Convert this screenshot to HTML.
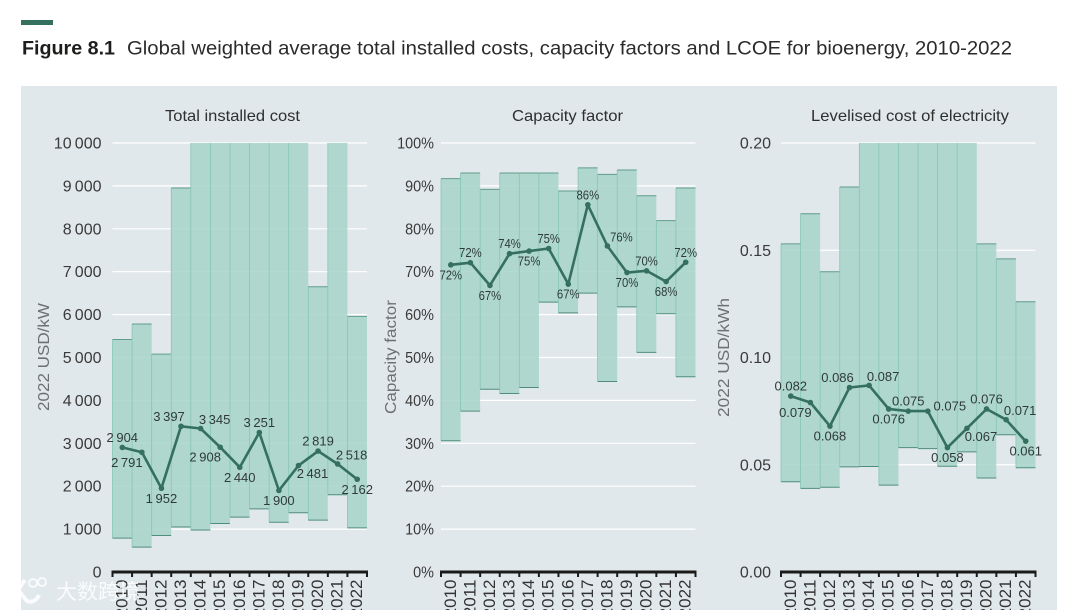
<!DOCTYPE html>
<html lang="en">
<head>
<meta charset="utf-8">
<title>Figure 8.1</title>
<style>
html,body{margin:0;padding:0;background:#fff;width:1080px;height:610px;overflow:hidden}
svg{display:block}
text{font-family:"Liberation Sans","Noto Sans CJK SC",sans-serif}
</style>
</head>
<body>
<svg id="fig" xmlns="http://www.w3.org/2000/svg" width="1080" height="610" viewBox="0 0 1080 610">
  <rect x="21" y="20" width="32" height="5" fill="#35705f"/>
  <text x="22" y="54.500" font-size="19" font-weight="700" fill="#1d1d1b" textLength="93" lengthAdjust="spacingAndGlyphs">Figure 8.1</text>
  <text x="127" y="54.500" font-size="19.500" fill="#2b2b2b" textLength="885" lengthAdjust="spacingAndGlyphs">Global weighted average total installed costs, capacity factors and LCOE for bioenergy, 2010-2022</text>
  <rect x="21" y="86" width="1036" height="524" fill="#e1e8eb"/>
  <g id="charts"></g>
  <g opacity="0.85">
    <path d="M13 581 L11 594 L15 602 M25 580 L18 590 L27 601 C32 603 37 600 39 595" fill="none" stroke="#fff" stroke-width="4"/>
    <circle cx="33" cy="583" r="4" fill="none" stroke="#fff" stroke-width="1.800"/>
    <circle cx="42" cy="582" r="4" fill="none" stroke="#fff" stroke-width="1.800"/>
    <text x="56" y="599" font-size="21" fill="#fff" style="font-family:'Noto Sans CJK SC',sans-serif">大数跨境</text>
  </g>
</svg>
<script>
var years = ['2010','2011','2012','2013','2014','2015','2016','2017','2018','2019','2020','2021','2022'];

var costHigh = [5420,5780,5080,8950,10000,10000,10000,10000,10000,10000,6650,10000,5960];
var costLow = [790,580,850,1050,980,1130,1280,1470,1160,1380,1210,1800,1030];
var costMean = [2904,2791,1952,3397,3345,2908,2440,3251,1900,2481,2819,2518,2162];
var costTicks = [0,1000,2000,3000,4000,5000,6000,7000,8000,9000,10000];
var costPlacement = ['N','SW','S','NW','NE','SW','S','N','S','SE','N','NE','S'];

var factorHigh = [91.7,93,89.2,93,93,93,88.8,94.2,92.7,93.7,87.7,81.9,89.5];
var factorLow = [30.6,37.5,42.6,41.6,43,62.9,60.4,65,44.4,61.8,51.2,60.2,45.5];
var factorMean = [71.6,72.1,66.8,74.2,74.8,75.4,67.1,85.6,76,69.8,70.2,67.7,72.2];
var factorTicks = [0,10,20,30,40,50,60,70,80,90,100];
var factorPlacement = ['S','N','S','N','S','N','S','N','NE','S','N','S','N'];

var lcoeHigh = [0.153,0.167,0.14,0.1795,0.2,0.2,0.2,0.2,0.2,0.2,0.153,0.146,0.126];
var lcoeLow = [0.0421,0.039,0.0395,0.049,0.0492,0.0405,0.058,0.0575,0.0493,0.056,0.0438,0.064,0.0486];
var lcoeMean = [0.082,0.079,0.068,0.086,0.087,0.076,0.075,0.075,0.058,0.067,0.076,0.071,0.061];
var lcoeTicks = [0,0.05,0.1,0.15,0.2];
var lcoePlacement = ['N','SW','S','NW','NE','S','N','E','S','SE','N','NE','S'];

var SVG_NS = 'http://www.w3.org/2000/svg';
var root = document.getElementById('charts');
var LINE = '#35705f';
var OFFSETS = {N:[0,-10],S:[0,10],NE:[14,-9],NW:[-12,-10],SE:[14,8],SW:[-15,10],E:[22,-5]};

function make(tag, attrs, parent, txt) {
  var el = document.createElementNS(SVG_NS, tag);
  for (var k in attrs) el.setAttribute(k, attrs[k]);
  if (txt !== undefined) el.textContent = txt;
  parent.appendChild(el);
  return el;
}

function thousands(v) {
  var s = String(Math.round(v));
  return s.length > 3 ? s.slice(0, -3) + '\u2009' + s.slice(-3) : s;
}
function percent(v) { return Math.round(v) + '%'; }
function tickMoney(v) { return v.toFixed(2); }
function labelMoney(v) { return v.toFixed(3); }

function drawChart(cfg) {
  var left = cfg.left, right = cfg.left + 254.5, top = 143, base = 572;
  var g = make('g', {}, root);
  
  
  var step = (right - left) / years.length;
  function xScale(i) { return left + step * (i + 0.5); }
  function yScale(v) { return base - (v / cfg.max) * (base - top); }

  var title = make('text', {x: cfg.titleX, y: 121, 'font-size': 16, fill: '#2f2f2f', 'text-anchor': 'middle', textLength: cfg.titleW, lengthAdjust: 'spacingAndGlyphs'}, g, cfg.title);
  
  

  var yt = make('text', {transform: 'translate(' + cfg.yTitleX + ' ' + cfg.yTitleY + ') rotate(-90)', 'font-size': 15.5, fill: '#6b7173', 'text-anchor': 'middle', textLength: cfg.yTitleW, lengthAdjust: 'spacingAndGlyphs'}, g, cfg.yTitle);
  
  

  cfg.ticks.forEach(function (t) {
    var y = yScale(t);
    if (t !== 0) {
      var gl = make('line', {x1: left, x2: right, y1: y, y2: y, stroke: '#ffffff', 'stroke-width': 1.2}, g);
      
      
    }
    var tl = make('text', {x: left - cfg.tickGap, y: y + 5.5, 'font-size': 16, fill: '#3a3a3a', 'text-anchor': 'end', transform: cfg.tickSquash ? 'translate(' + (left - cfg.tickGap) + ' 0) scale(' + cfg.tickSquash + ' 1) translate(' + (-(left - cfg.tickGap)) + ' 0)' : ''}, g, cfg.tickFmt(t));
    
    
  });

  years.forEach(function (yr, i) {
    var x0 = left + step * i, yTop = yScale(cfg.high[i]), yBot = yScale(cfg.low[i]);
    var bar = make('rect', {x: x0, y: yTop, width: step, height: yBot - yTop, fill: '#a6d4c8', 'fill-opacity': 0.85, stroke: 'none'}, g);
    
    
    var side = make('line', {x1: x0, x2: x0, y1: yTop, y2: yBot, stroke: '#86c6b5', 'stroke-width': 0.8}, g);
    
    
    if (cfg.high[i] < cfg.max) {
      var capTop = make('line', {x1: x0, x2: x0 + step, y1: yTop, y2: yTop, stroke: '#5f9c8b', 'stroke-width': 1}, g);
      
      
    }
    var capBot = make('line', {x1: x0, x2: x0 + step, y1: yBot, y2: yBot, stroke: '#4f8d7c', 'stroke-width': 1}, g);
    
    
  });

  var pts = cfg.mean.map(function (v, i) { return xScale(i).toFixed(1) + ',' + yScale(v).toFixed(1); }).join(' ');
  var line = make('polyline', {points: pts, fill: 'none', stroke: LINE, 'stroke-width': 2.6, 'stroke-linejoin': 'round'}, g);
  
  

  cfg.mean.forEach(function (v, i) {
    var c = make('circle', {cx: xScale(i), cy: yScale(v), r: 2.8, fill: LINE}, g);
    
    
    var off = OFFSETS[cfg.place[i]];
    var lx = xScale(i) + off[0];
    var lb = make('text', {x: lx, y: yScale(v) + off[1] + 4.5, 'font-size': 13, fill: '#2f3a38', 'text-anchor': 'middle', transform: cfg.labelSquash ? 'translate(' + lx + ' 0) scale(' + cfg.labelSquash + ' 1) translate(' + (-lx) + ' 0)' : ''}, g, cfg.labelFmt(v));
    
    
  });

  var axis = make('line', {x1: left - 1, x2: right + 1, y1: base, y2: base, stroke: '#1a1a1a', 'stroke-width': 3}, g);
  
  
  for (var j = 0; j <= years.length; j++) {
    var tx = left + step * j;
    var tk = make('line', {x1: tx, x2: tx, y1: base, y2: base + 5, stroke: '#1a1a1a', 'stroke-width': 2}, g);
    
    
  }
  years.forEach(function (yr, i) {
    var cx = xScale(i) - 1;
    var yl = make('text', {transform: 'translate(' + (cx + 6) + ' 579.5) rotate(-90)', 'font-size': 17, fill: '#333333', 'text-anchor': 'end'}, g, yr);
    
    
  });
}

drawChart({name:'total-installed-cost-chart', left:112.5, max:10000, high:costHigh, low:costLow, mean:costMean, ticks:costTicks, place:costPlacement,
  tickFmt:thousands, labelFmt:thousands, tickGap:11, title:'Total installed cost', titleX:232.5, titleW:135,
  yTitle:'2022 USD/kW', yTitleX:49, yTitleY:357, yTitleW:108});
drawChart({name:'capacity-factor-chart', left:441, max:100, high:factorHigh, low:factorLow, mean:factorMean, ticks:factorTicks, place:factorPlacement,
  tickFmt:percent, labelFmt:percent, tickGap:7, tickSquash:0.9, labelSquash:0.87, title:'Capacity factor', titleX:567.5, titleW:111,
  yTitle:'Capacity factor', yTitleX:396, yTitleY:357, yTitleW:114});
drawChart({name:'levelised-cost-chart', left:781, max:0.2, high:lcoeHigh, low:lcoeLow, mean:lcoeMean, ticks:lcoeTicks, place:lcoePlacement,
  tickFmt:tickMoney, labelFmt:labelMoney, tickGap:10, title:'Levelised cost of electricity', titleX:910, titleW:198,
  yTitle:'2022 USD/kWh', yTitleX:729, yTitleY:357.5, yTitleW:119});
</script>
</body>
</html>
